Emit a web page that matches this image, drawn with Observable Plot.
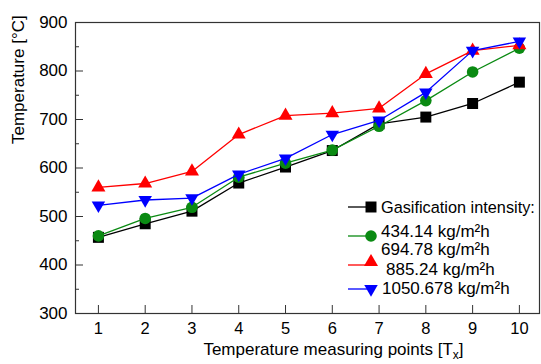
<!DOCTYPE html>
<html>
<head>
<meta charset="utf-8">
<script src="https://cdn.jsdelivr.net/npm/d3@7"></script>
<script src="https://cdn.jsdelivr.net/npm/@observablehq/plot@0.6"></script>
<style>
  html, body { margin: 0; padding: 0; background: #fff; }
  #chart { width: 541px; height: 364px; }
</style>
</head>
<body>
<div id="chart"></div>
<script>
// ---- data ----
const points = [1, 2, 3, 4, 5, 6, 7, 8, 9, 10];
const black = [457, 485, 511, 569, 602, 636, 691, 705, 733, 777];
const green = [460, 496, 519, 581, 610, 637, 686, 739, 798, 847];
const red   = [560, 568, 593, 669, 708, 713, 723, 794, 842, 853];
const blue  = [523, 534, 538, 587, 620, 669, 698, 756, 842, 861];
const yMajor = [300, 400, 500, 600, 700, 800, 900];
const yMinor = [350, 450, 550, 650, 750, 850];
const legendLabels = ["Gasification intensity:", "434.14 kg/m²h", "694.78 kg/m²h", "885.24 kg/m²h", "1050.678 kg/m²h"];
const xTitle = "Temperature measuring points [Tx]";
const yTitle = "Temperature [°C]";

const invTriangle = {
  draw(ctx, size) {
    const y = Math.sqrt(size / (3 * Math.sqrt(3)));
    const x = Math.sqrt(3) * y;
    ctx.moveTo(0, 2 * y);
    ctx.lineTo(-x, -y);
    ctx.lineTo(x, -y);
    ctx.closePath();
  }
};

const series = [
  {name: "black", values: black, color: "#000000", symbol: "square", r: 6.2},
  {name: "green", values: green, color: "#0a8a12", symbol: "circle", r: 5.8},
  {name: "red", values: red, color: "#ff0000", symbol: "triangle", r: 5.2},
  {name: "blue", values: blue, color: "#0000ff", symbol: invTriangle, r: 5.0}
];

const seriesMarks = series.flatMap(s => {
  const rows = points.map((p, i) => ({x: p, y: s.values[i]}));
  return [
    Plot.line(rows, {x: "x", y: "y", stroke: s.color, strokeWidth: 1.3}),
    Plot.dot(rows, {x: "x", y: "y", fill: s.color, stroke: "none", symbol: s.symbol, r: s.r})
  ];
});

const font = "'Liberation Sans', Arial, Helvetica, sans-serif";

const chart = Plot.plot({
  width: 541,
  height: 364,
  marginLeft: 75,
  marginRight: 2,
  marginTop: 22,
  marginBottom: 51,
  style: {fontFamily: font, fontSize: "16px", background: "#fff", color: "#000", overflow: "visible"},
  x: {domain: [0.51, 10.43]},
  y: {domain: [300, 900]},
  marks: [
    Plot.frame({stroke: "#333", strokeWidth: 1.2}),
    // inward ticks
    Plot.axisY({ticks: yMajor, tickSize: 8, dx: 8, fill: "none", stroke: "#333", label: null}),
    Plot.axisY({ticks: yMinor, tickSize: 4, dx: 4, fill: "none", stroke: "#333", label: null}),
    Plot.axisX({ticks: points, tickSize: 8, dy: -8, fill: "none", stroke: "#333", label: null}),
    // tick labels
    Plot.axisY({ticks: yMajor, tickSize: 0, tickPadding: 8, fontSize: 17, label: null}),
    Plot.axisX({ticks: points, tickSize: 0, tickPadding: 9, fontSize: 16.5, label: null}),
    // titles
    Plot.text([yTitle], {frameAnchor: "left", text: d => d, rotate: -90, dx: -57, dy: -24, fontSize: 17, fill: "#000"}),
    Plot.text([xTitle], {frameAnchor: "bottom", text: d => d, dx: 26, dy: 41, fontSize: 17, fill: "#000"}),
    ...seriesMarks
  ]
});

document.getElementById("chart").append(chart);

// subscript in x title
const svg = d3.select(chart);
svg.selectAll("text").filter(function() { return this.textContent === xTitle; })
  .each(function() {
    const t = d3.select(this);
    t.text(null);
    t.append("tspan").text("Temperature measuring points [T");
    t.append("tspan").attr("dy", 4).attr("font-size", 12).text("x");
    t.append("tspan").attr("dy", -4).text("]");
  });

// legend
const lg = svg.append("g").attr("font-family", font).attr("font-size", 17).attr("text-anchor", "start");
const legendRows = [
  {s: series[0], y: 207, text: legendLabels[0], tx: 381, ty: 213, fs: 16.3},
  {s: series[1], y: 236, text: legendLabels[1], tx: 381, ty: 237, fs: 17},
  {s: null, y: 0, text: legendLabels[2], tx: 381, ty: 255, fs: 17},
  {s: series[2], y: 265, text: legendLabels[3], tx: 386, ty: 275, fs: 17},
  {s: series[3], y: 289, text: legendLabels[4], tx: 382, ty: 294, fs: 17}
];
legendRows.forEach(row => {
  if (row.s) {
    lg.append("line").attr("x1", 348).attr("x2", 371).attr("y1", row.y).attr("y2", row.y)
      .attr("stroke", row.s.color).attr("stroke-width", 1.3);
    const sym = typeof row.s.symbol === "string"
      ? {square: d3.symbolSquare, circle: d3.symbolCircle, triangle: d3.symbolTriangle}[row.s.symbol]
      : row.s.symbol;
    const my = row.s.symbol === "triangle" ? row.y - 3 : row.y;
    lg.append("path").attr("d", d3.symbol(sym, Math.PI * row.s.r * row.s.r)())
      .attr("transform", `translate(371,${my})`).attr("fill", row.s.color);
  }
  lg.append("text").attr("x", row.tx).attr("y", row.ty).attr("fill", "#000")
    .attr("font-size", row.fs).attr("text-anchor", "start").text(row.text);
});
</script>
</body>
</html>
